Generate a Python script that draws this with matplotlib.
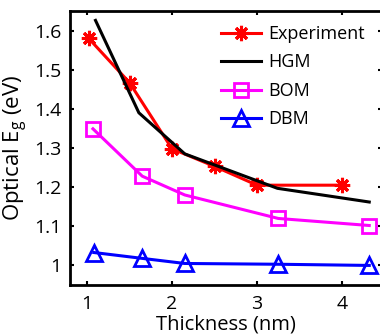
import matplotlib.pyplot as plt
import numpy as np

# data
exp_x = [1.02, 1.5, 2.0, 2.5, 3.0, 4.0]
exp_y = [1.58, 1.467, 1.298, 1.253, 1.205, 1.205]
hgm_x = [1.1, 1.61, 2.15, 3.24, 4.32]
hgm_y = [1.626, 1.39, 1.285, 1.197, 1.162]
bom_x = [1.07, 1.65, 2.15, 3.25, 4.32]
bom_y = [1.349, 1.228, 1.18, 1.12, 1.102]
dbm_x = [1.08, 1.65, 2.15, 3.25, 4.32]
dbm_y = [1.033, 1.018, 1.005, 1.003, 1.0]

plt.rcParams['font.family'] = ['Open Sans', 'DejaVu Sans']
plt.rcParams['mathtext.fontset'] = 'custom'
plt.rcParams['mathtext.rm'] = 'Open Sans'
plt.rcParams['mathtext.it'] = 'Open Sans'

fig = plt.figure(figsize=(3.8, 3.36), dpi=100)
ax = fig.add_axes([70 / 380, (336 - 285) / 336, 312 / 380, (285 - 11) / 336])

ax.plot(exp_x, exp_y, color='red', lw=2.2, marker=(8, 2, 0), ms=11, mew=2.2, label='Experiment')
ax.plot(hgm_x, hgm_y, color='black', lw=2.2, label='HGM')
ax.plot(bom_x, bom_y, color='magenta', lw=2.2, marker='s', ms=10, mfc='none', mew=2, label='BOM')
ax.plot(dbm_x, dbm_y, color='blue', lw=2.2, marker='^', ms=12, mfc='none', mew=2, label='DBM')

ax.set_xlim(0.8, 4.47)
ax.set_ylim(0.95, 1.65)
ax.set_xticks([1, 2, 3, 4])
ax.set_xticklabels(['1', '2', '3', '4'])
ax.set_yticks([1, 1.1, 1.2, 1.3, 1.4, 1.5, 1.6])
ax.set_yticklabels(['1', '1.1', '1.2', '1.3', '1.4', '1.5', '1.6'])
ax.tick_params(direction='in', length=3, width=1.5, labelsize=14, top=True, right=True)
ax.tick_params(axis='x', pad=7.5)
ax.tick_params(axis='y', pad=6)
for s in ax.spines.values():
    s.set_linewidth(2)

ax.set_xlabel('Thickness (nm)', fontsize=14.5, labelpad=0.5)
ax.set_ylabel('Optical E$_\\mathrm{g}$ (eV)', fontsize=16, labelpad=3)

ax.legend(loc='upper right', bbox_to_anchor=(0.985, 0.995), frameon=False, fontsize=13,
          handlelength=2.2, handletextpad=0.4, labelspacing=0.58, borderaxespad=0.3)

plt.savefig('out.png', dpi=100)
